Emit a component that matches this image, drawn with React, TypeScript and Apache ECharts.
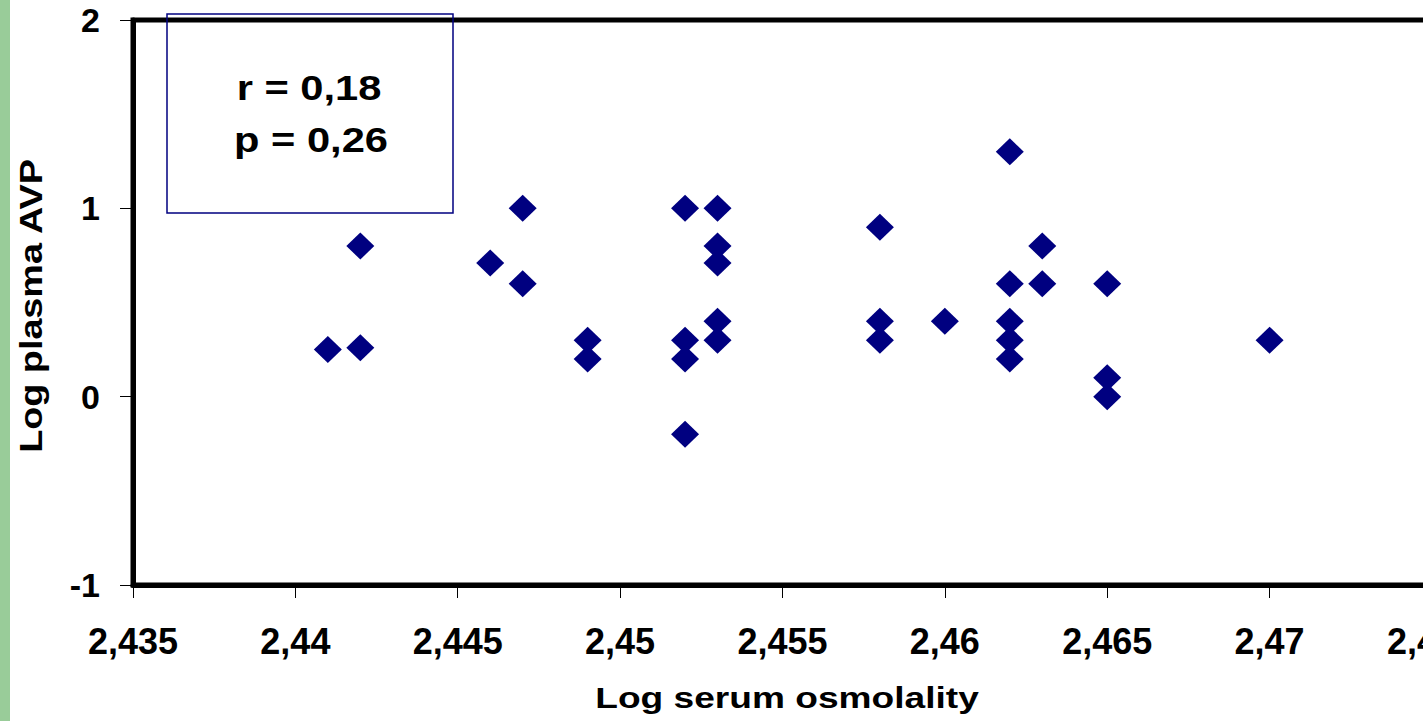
import React, { useEffect, useRef } from "react";
import * as echarts from "echarts";

const serumOsmolality: number[] = [
  2.441, 2.442, 2.442, 2.446, 2.447, 2.447, 2.449, 2.449,
  2.452, 2.452, 2.452, 2.452, 2.453, 2.453, 2.453, 2.453, 2.453,
  2.458, 2.458, 2.458, 2.46, 2.462, 2.462, 2.462, 2.462, 2.462,
  2.463, 2.463, 2.465, 2.465, 2.465, 2.47,
];
const plasmaAVP: number[] = [
  0.25, 0.8, 0.26, 0.71, 1.0, 0.6, 0.3, 0.2,
  1.0, 0.3, 0.2, -0.2, 1.0, 0.8, 0.71, 0.4, 0.3,
  0.9, 0.4, 0.3, 0.4, 1.3, 0.6, 0.4, 0.3, 0.2,
  0.8, 0.6, 0.6, 0.1, 0.0, 0.3,
];
const statLines: string[] = ["r = 0,18", "p = 0,26"];
const xTitle = "Log serum osmolality";
const yTitle = "Log plasma AVP";

const FONT = "'Liberation Sans', Arial, Helvetica, sans-serif";

export default function App() {
  const ref = useRef<HTMLDivElement>(null);
  useEffect(() => {
    if (!ref.current) return;
    const chart = echarts.init(ref.current, null, { renderer: "svg" });
    const data = serumOsmolality.map((x, i) => [x, plasmaAVP[i]]);
    chart.setOption({
      animation: false,
      backgroundColor: "#ffffff",
      grid: {
        left: 133,
        right: 44,
        top: 20,
        bottom: 136,
        show: true,
        borderColor: "#000",
        borderWidth: 5,
      },
      xAxis: {
        type: "value",
        min: 2.435,
        max: 2.475,
        interval: 0.005,
        splitLine: { show: false },
        axisLine: { show: true, onZero: false, lineStyle: { color: "#000", width: 5 } },
        axisTick: { show: true, length: 13, lineStyle: { color: "#000", width: 1 } },
        axisLabel: {
          margin: 38,
          fontSize: 36,
          fontWeight: "bold",
          fontFamily: FONT,
          color: "#000",
          formatter: (v: number) => String(+v.toFixed(3)).replace(".", ","),
        },
      },
      yAxis: {
        type: "value",
        min: -1,
        max: 2,
        interval: 1,
        splitLine: { show: false },
        axisLine: { show: true, onZero: false, lineStyle: { color: "#000", width: 5 } },
        axisTick: { show: true, length: 13, lineStyle: { color: "#000", width: 1 } },
        axisLabel: {
          margin: 33,
          fontSize: 34,
          fontWeight: "bold",
          fontFamily: FONT,
          color: "#000",
        },
      },
      graphic: [
        {
          type: "rect",
          shape: { x: 0, y: 0, width: 10, height: 721 },
          style: { fill: "#99cc99" },
          z: 100,
        },
        {
          type: "rect",
          shape: { x: 167, y: 14, width: 286, height: 199 },
          style: { fill: "none", stroke: "#000080", lineWidth: 1.5 },
          z: 100,
        },
        {
          type: "text",
          x: 309,
          y: 88,
          scaleX: 1.19,
          style: {
            text: statLines[0],
            fill: "#000",
            fontSize: 35,
            fontWeight: "bold",
            fontFamily: FONT,
            align: "center",
            verticalAlign: "middle",
          },
          z: 100,
        },
        {
          type: "text",
          x: 311,
          y: 140,
          scaleX: 1.19,
          style: {
            text: statLines[1],
            fill: "#000",
            fontSize: 35,
            fontWeight: "bold",
            fontFamily: FONT,
            align: "center",
            verticalAlign: "middle",
          },
          z: 100,
        },
        {
          type: "text",
          x: 787,
          y: 698,
          scaleX: 1.28,
          style: {
            text: xTitle,
            fill: "#000",
            fontSize: 29,
            fontWeight: "bold",
            fontFamily: FONT,
            align: "center",
            verticalAlign: "middle",
          },
          z: 100,
        },
        {
          type: "text",
          x: 31,
          y: 306,
          rotation: Math.PI / 2,
          scaleX: 1.18,
          style: {
            text: yTitle,
            fill: "#000",
            fontSize: 32,
            fontWeight: "bold",
            fontFamily: FONT,
            align: "center",
            verticalAlign: "middle",
          },
          z: 100,
        },
      ],
      series: [
        {
          type: "scatter",
          data,
          symbol: "diamond",
          symbolSize: [28, 27],
          itemStyle: { color: "#000080", opacity: 1 },
        },
      ],
    });
    return () => chart.dispose();
  }, []);
  return (
    <div
      style={{
        position: "fixed",
        left: 0,
        top: 0,
        width: 1423,
        height: 721,
        overflow: "hidden",
        background: "#fff",
      }}
    >
      <div ref={ref} style={{ width: 1480, height: 721 }} />
    </div>
  );
}
